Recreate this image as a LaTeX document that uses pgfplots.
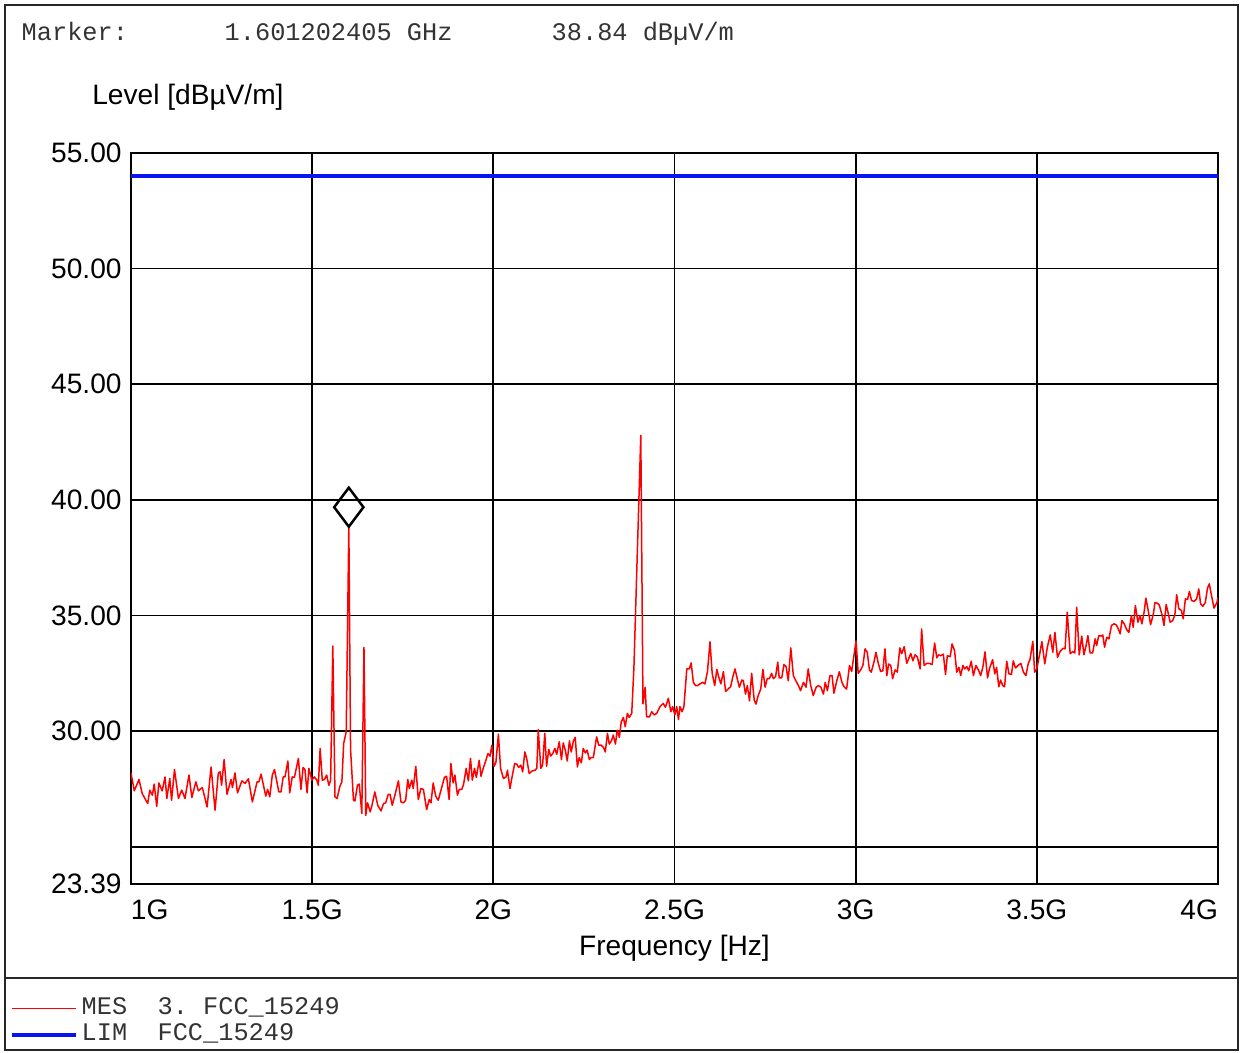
\documentclass[border=0pt]{standalone}
\usepackage{fontspec}
\setmainfont{Liberation Sans}
\newfontfamily\monof{Liberation Mono}
\usepackage{pgfplots}
\pgfplotsset{compat=1.18}
\definecolor{limblue}{RGB}{10,20,240}
\definecolor{mesred}{RGB}{255,0,0}

% measured trace, frequency in GHz, level in dBuV/m
\pgfplotstableread{
f L
1.000 28.19
1.009 27.42
1.022 27.91
1.031 27.30
1.046 26.87
1.052 27.45
1.059 27.23
1.064 27.71
1.071 26.75
1.077 27.76
1.086 27.42
1.094 28.02
1.099 27.09
1.107 27.95
1.112 27.01
1.120 28.34
1.131 27.09
1.140 27.45
1.149 27.09
1.160 28.10
1.168 27.13
1.179 27.81
1.186 27.42
1.197 27.56
1.210 26.72
1.221 28.45
1.232 26.58
1.241 28.19
1.246 28.24
1.250 27.66
1.257 28.77
1.265 27.27
1.276 27.91
1.280 27.56
1.287 28.19
1.294 27.33
1.306 27.85
1.315 27.74
1.324 27.94
1.335 26.94
1.348 27.81
1.353 27.81
1.359 28.14
1.372 27.19
1.377 27.48
1.383 27.16
1.390 28.10
1.396 28.34
1.408 27.37
1.414 27.37
1.420 28.02
1.425 28.02
1.433 28.71
1.438 27.33
1.445 28.02
1.451 28.00
1.462 28.82
1.469 27.48
1.475 28.43
1.480 28.34
1.486 27.33
1.491 28.39
1.499 27.88
1.506 28.02
1.513 27.88
1.517 27.66
1.522 29.25
1.528 27.88
1.534 27.91
1.540 28.10
1.546 27.66
1.551 27.88
1.557 33.68
1.563 27.16
1.569 27.09
1.576 27.59
1.582 27.81
1.587 29.47
1.594 29.97
1.6012 38.84
1.606 29.20
1.614 27.01
1.618 26.98
1.625 27.66
1.630 27.71
1.637 26.44
1.643 33.62
1.648 26.36
1.653 26.90
1.660 26.51
1.664 26.72
1.673 27.37
1.681 26.79
1.690 26.55
1.697 26.87
1.703 26.90
1.710 27.27
1.715 27.27
1.721 26.79
1.729 27.27
1.738 27.85
1.745 26.94
1.752 26.90
1.758 27.01
1.764 27.91
1.768 27.52
1.775 27.88
1.779 27.52
1.786 28.48
1.793 27.04
1.800 27.52
1.807 27.48
1.816 26.61
1.823 27.04
1.828 26.90
1.834 27.76
1.841 27.19
1.848 27.01
1.858 27.59
1.865 28.00
1.871 28.05
1.878 27.04
1.883 28.60
1.889 27.76
1.894 28.10
1.901 27.23
1.906 27.48
1.913 27.48
1.918 27.71
1.925 28.39
1.931 27.85
1.937 28.82
1.942 27.88
1.948 28.39
1.953 28.00
1.961 28.74
1.966 28.05
1.972 28.39
1.979 28.71
1.985 29.03
1.991 28.92
1.996 29.39
2.002 28.48
2.007 28.63
2.014 29.87
2.020 28.39
2.028 27.95
2.035 28.02
2.039 28.31
2.046 27.52
2.052 28.05
2.059 28.60
2.065 28.57
2.070 28.43
2.076 28.53
2.081 28.24
2.087 29.10
2.092 28.82
2.099 28.17
2.107 28.28
2.115 28.31
2.120 28.39
2.124 30.07
2.131 28.39
2.136 28.53
2.142 29.90
2.147 28.48
2.153 29.21
2.158 28.92
2.164 29.03
2.170 29.25
2.175 29.00
2.182 29.54
2.188 28.77
2.193 29.49
2.199 29.15
2.204 28.71
2.210 29.58
2.215 29.10
2.221 29.58
2.226 29.73
2.232 28.45
2.237 28.86
2.243 28.63
2.248 29.25
2.254 29.06
2.259 29.18
2.265 28.77
2.270 28.86
2.276 28.86
2.285 29.75
2.291 29.39
2.298 29.39
2.304 29.29
2.309 29.10
2.315 29.90
2.320 29.44
2.326 29.58
2.331 29.83
2.337 29.44
2.342 30.04
2.348 29.73
2.353 30.40
2.359 30.59
2.364 30.19
2.370 30.77
2.375 30.59
2.382 30.77
2.388 32.74
2.407 42.79
2.411 35.07
2.413 31.18
2.419 31.90
2.423 30.62
2.431 30.62
2.437 30.84
2.444 30.70
2.451 30.77
2.460 31.06
2.469 31.20
2.475 31.03
2.483 31.42
2.490 30.84
2.495 31.06
2.501 30.70
2.506 31.06
2.511 30.50
2.515 31.06
2.521 30.84
2.526 31.06
2.534 32.69
2.541 32.69
2.546 32.95
2.552 32.11
2.558 31.97
2.563 31.97
2.570 32.04
2.578 32.11
2.584 32.04
2.591 32.57
2.598 33.86
2.604 32.50
2.611 31.97
2.617 32.67
2.622 32.35
2.628 32.04
2.635 32.57
2.641 31.72
2.648 31.82
2.655 31.92
2.661 32.35
2.667 32.69
2.672 32.35
2.679 31.90
2.686 32.21
2.690 32.18
2.696 31.60
2.701 31.97
2.707 31.31
2.713 32.50
2.720 31.34
2.725 31.17
2.731 31.54
2.738 31.82
2.744 32.67
2.750 31.90
2.756 32.27
2.762 32.27
2.768 32.50
2.773 32.27
2.779 32.36
2.785 32.98
2.789 32.30
2.796 32.30
2.802 32.88
2.808 32.79
2.814 32.18
2.821 33.60
2.828 32.40
2.835 32.18
2.842 31.97
2.848 31.75
2.856 32.11
2.863 31.90
2.869 32.69
2.876 31.97
2.883 31.54
2.891 31.90
2.897 31.97
2.904 31.90
2.911 31.60
2.916 32.11
2.922 31.75
2.929 32.40
2.935 32.40
2.940 31.64
2.948 32.18
2.955 32.57
2.962 32.11
2.968 31.92
2.975 31.82
2.983 32.84
2.989 32.58
2.996 33.35
3.001 33.90
3.007 32.50
3.014 32.65
3.020 32.84
3.026 33.56
3.032 33.41
3.038 32.65
3.043 32.55
3.051 33.02
3.056 33.41
3.063 32.90
3.069 32.58
3.075 32.61
3.081 33.56
3.086 32.40
3.091 32.90
3.097 32.84
3.102 32.27
3.109 32.65
3.115 32.55
3.122 33.60
3.127 33.35
3.134 33.65
3.141 32.93
3.146 33.12
3.152 33.36
3.158 33.04
3.164 33.30
3.170 33.22
3.178 32.69
3.182 34.42
3.189 32.84
3.196 32.93
3.203 32.93
3.211 32.88
3.218 33.81
3.224 33.17
3.229 33.30
3.235 33.26
3.242 33.33
3.248 32.45
3.253 33.26
3.261 33.22
3.266 33.77
3.273 33.48
3.279 32.55
3.285 32.76
3.290 32.40
3.296 32.84
3.301 32.69
3.307 32.79
3.312 32.61
3.319 33.02
3.325 32.40
3.332 32.84
3.340 32.61
3.345 32.40
3.351 32.76
3.357 33.43
3.364 32.30
3.369 32.69
3.378 33.09
3.384 32.48
3.389 32.76
3.395 31.92
3.400 32.21
3.406 31.97
3.411 31.92
3.417 33.02
3.423 32.48
3.430 32.45
3.435 33.04
3.441 32.73
3.448 32.84
3.456 32.93
3.463 32.55
3.470 32.40
3.476 32.90
3.481 33.09
3.489 33.88
3.494 32.55
3.500 32.70
3.507 33.26
3.514 33.87
3.522 32.91
3.529 33.63
3.537 34.16
3.544 33.41
3.550 34.27
3.557 33.19
3.564 33.44
3.572 33.58
3.578 33.56
3.584 35.14
3.592 33.35
3.599 33.44
3.605 33.38
3.610 35.36
3.617 33.30
3.624 34.11
3.630 33.30
3.636 33.70
3.641 34.13
3.647 33.38
3.654 33.38
3.661 33.99
3.665 33.70
3.671 34.13
3.678 34.11
3.682 34.16
3.687 33.63
3.693 34.06
3.699 33.99
3.706 34.57
3.713 34.64
3.719 34.60
3.724 34.45
3.730 34.21
3.735 34.78
3.741 34.64
3.748 34.39
3.754 34.27
3.761 35.00
3.766 34.49
3.772 35.43
3.779 34.71
3.785 35.00
3.790 34.64
3.796 35.14
3.801 35.75
3.807 35.26
3.814 34.60
3.822 35.10
3.826 35.56
3.833 35.53
3.838 35.45
3.846 35.00
3.851 34.57
3.857 35.48
3.862 35.14
3.868 34.71
3.875 34.78
3.881 35.03
3.886 35.90
3.892 35.29
3.899 35.22
3.904 34.86
3.910 35.72
3.916 35.69
3.921 36.04
3.927 35.65
3.934 35.61
3.941 35.72
3.947 36.15
3.952 35.50
3.958 35.40
3.965 35.56
3.971 36.18
3.976 36.37
3.982 35.87
3.989 35.32
3.997 35.56
4.000 35.78
}\mestable

\begin{document}
\begin{tikzpicture}[x=0.1mm,y=0.1mm]
\path (0,0) rectangle (1240,1053);
\draw[line width=0.15mm, black!85] (5,3) rectangle (1238,1048);
\draw[line width=0.15mm, black!85] (5,75) -- (1238,75);
\begin{axis}[
  at={(13.1mm,16.9mm)}, anchor=south west,
  scale only axis, width=108.7mm, height=73.1mm,
  xmin=1, xmax=4, ymin=23.39, ymax=55,
  xtick={1,1.5,2,2.5,3,3.5,4},
  xticklabels={\makebox[0pt][l]{1G},1.5G,2G,2.5G,3G,3.5G,\makebox[0pt][r]{4G}},
  ytick={23.39,25,30,35,40,45,50,55},
  yticklabels={23.39,,30.00,35.00,40.00,45.00,50.00,55.00},
  major tick length=0pt,
  grid=major,
  grid style={black, line width=0.17mm},
  axis line style={black, line width=0.2mm},
  tick label style={font=\fontsize{8}{9.6}\selectfont},
  xticklabel style={yshift=-0.35mm},
  yticklabel style={xshift=0.3mm},
  xlabel={Frequency [Hz]},
  ylabel={Level [dBµV/m]},
  every axis x label/.style={at={(axis description cs:0.5,-0.0876)}, anchor=center,
    font=\fontsize{8}{9.6}\selectfont},
  every axis y label/.style={at={(axis description cs:-0.0470,1.0766)}, anchor=west,
    font=\fontsize{8}{9.6}\selectfont},
  legend style={at={(axis description cs:-0.1118,-0.1491)}, anchor=north west,
    draw=none, fill=none, inner sep=0pt, row sep=-0.28mm,
    nodes={inner sep=0.35mm}, cells={anchor=west},
    font=\monof\fontsize{7.2}{8}\selectfont, text=black!80},
  legend image code/.code={\draw[#1] (0mm,0mm) -- (6.4mm,0mm);},
]
\addplot[mesred, line width=0.15mm, line join=round] table[x=f, y=L] {\mestable};
\addlegendentry{MES~~3.~FCC\_15249}
\addplot[limblue, line width=0.4mm] coordinates {(1,54) (4,54)};
\addlegendentry{LIM~~FCC\_15249}
\addplot[forget plot, only marks, mark=diamond, mark size=1.95mm,
  mark options={solid, draw=black, fill=white, line width=0.25mm, yshift=1.95mm}]
  coordinates {(1.6012,38.84)};
\end{axis}
\begin{scope}[every node/.style={anchor=base west, inner sep=0pt,
    font=\monof\fontsize{7.2}{8}\selectfont, text=black!80}]
\node at (21,1012) {Marker:};
\node at (224,1012) {1.601202405 GHz};
\node at (551,1012) {38.84 dBµV/m};
\end{scope}
\end{tikzpicture}
\end{document}
